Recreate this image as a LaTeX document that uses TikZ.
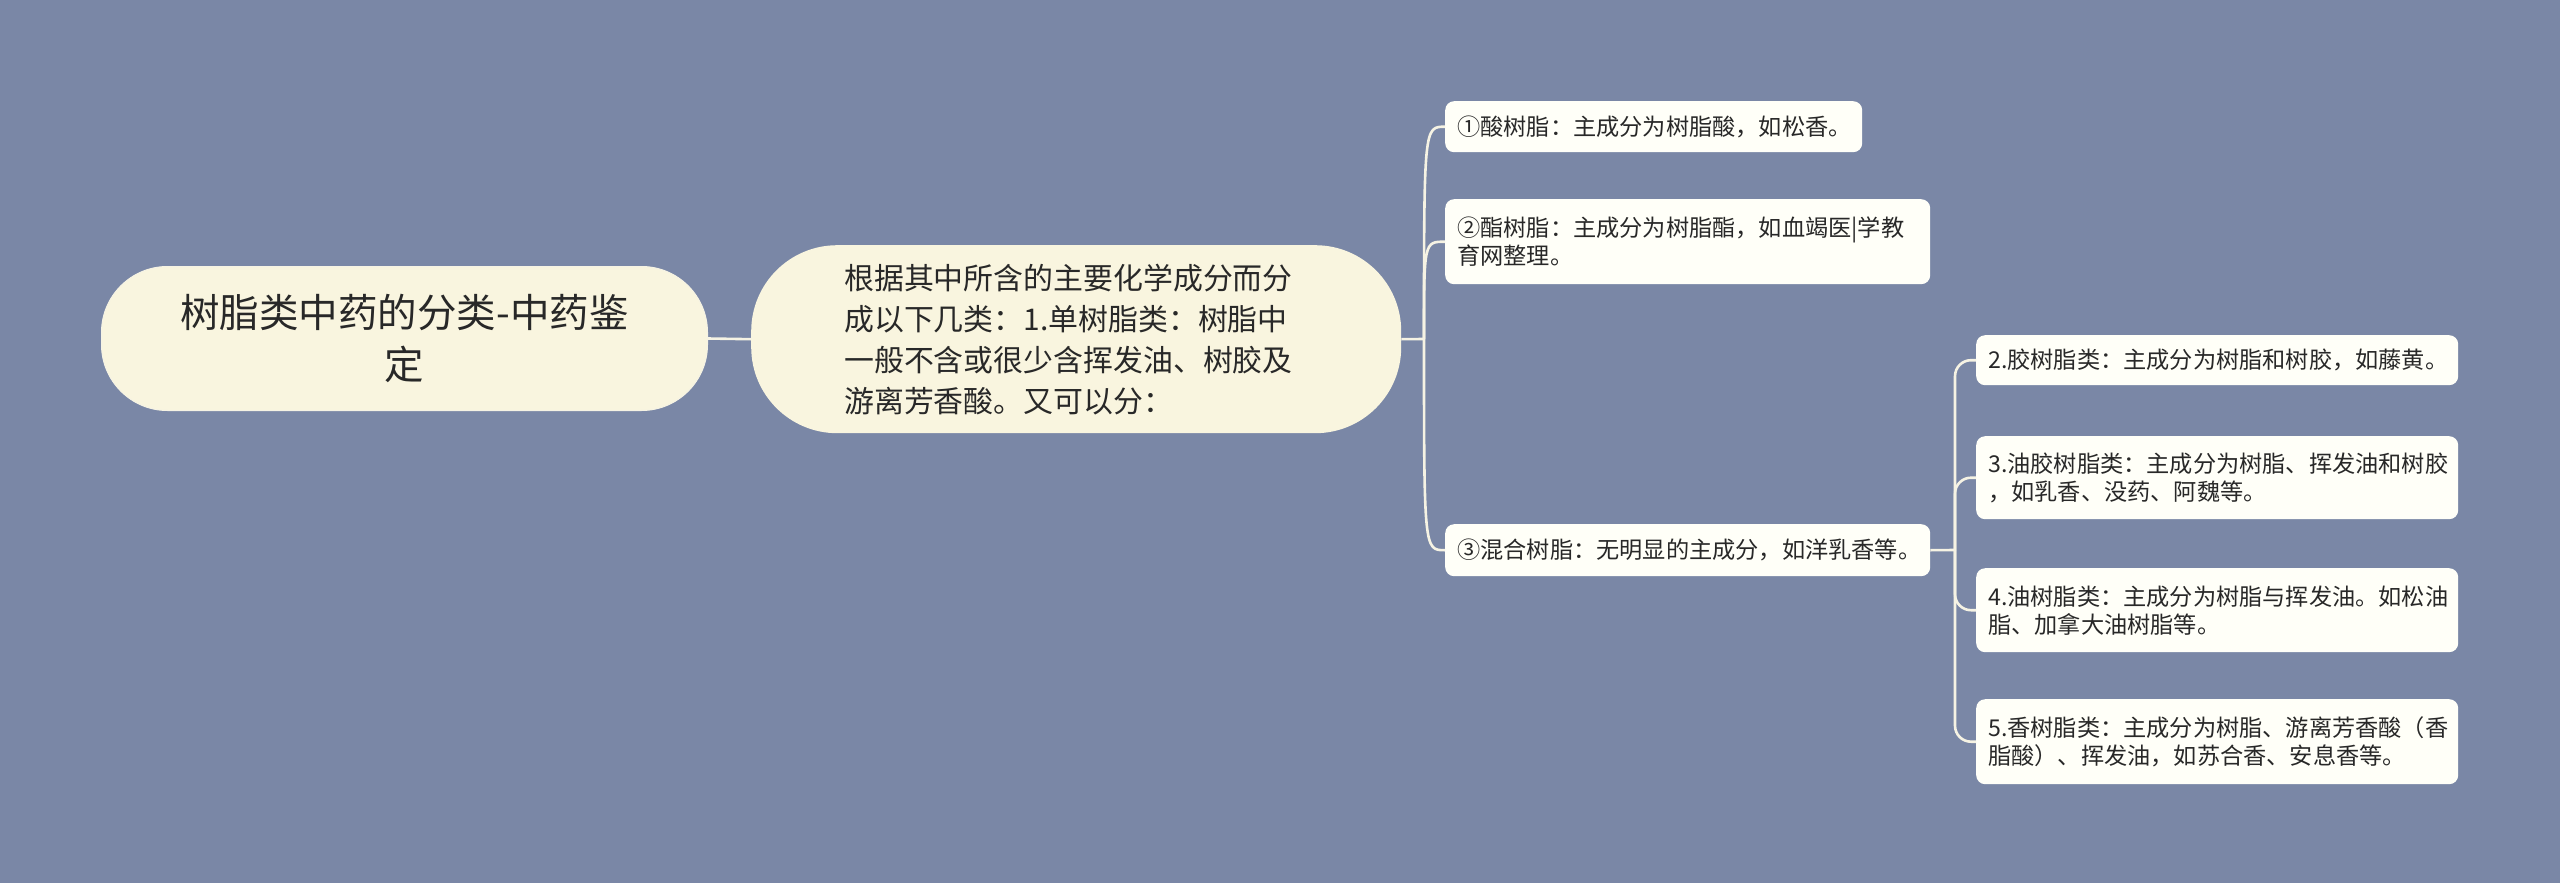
\documentclass[tikz,border=0pt]{standalone}
\usepackage{fontspec}
\setmainfont{Noto Sans CJK SC}
\usetikzlibrary{calc}
\definecolor{bgc}{RGB}{122,135,166}
\definecolor{creamc}{RGB}{249,245,223}
\definecolor{leafc}{RGB}{255,255,248}
\definecolor{linec}{RGB}{246,243,228}
\definecolor{textc}{RGB}{40,40,40}

\begin{document}
\begin{tikzpicture}[x=1pt,y=-1pt,
	branch/.style={line width=2.6pt,color=linec},
	rootbox/.style={fill=creamc,draw=linec,line width=1pt,text=textc,anchor=north west,inner xsep=0pt,inner ysep=0pt,align=center},
	mainbox/.style={fill=creamc,text=textc,anchor=north west,inner ysep=0pt,align=left},
	leafbox/.style={fill=leafc,text=textc,anchor=north west,rounded corners=9pt,inner xsep=12pt,inner ysep=0pt,align=left,
		font=\fontsize{23.2}{28}\selectfont}]
\useasboundingbox (0,0) rectangle (2560,883);
\fill[bgc] (0,0) rectangle (2560,883);

% root and its one child
\node[rootbox,rounded corners=66pt,text width=606pt,minimum height=144pt,
	font=\fontsize{39.5}{52}\selectfont] (R) at (101,266) {树脂类中药的分类-中药鉴\\定};
\node[mainbox,rounded corners=86pt,inner xsep=93pt,text width=464pt,minimum height=188pt,
	font=\fontsize{29.9}{41}\selectfont] (M) at (751,245)
	{根据其中所含的主要化学成分而分\\成以下几类：1.单树脂类：树脂中\\一般不含或很少含挥发油、树胶及\\游离芳香酸。又可以分：};

% first level leaves
\node[leafbox,text width=393pt,minimum height=51pt] (L1) at (1445,101) {①酸树脂：主成分为树脂酸，如松香。};
\node[leafbox,text width=461pt,minimum height=85pt] (L2) at (1445,199) {②酯树脂：主成分为树脂酯，如血竭医|学教\\育网整理。};
\node[leafbox,text width=461pt,minimum height=52pt] (L3) at (1445,524) {③混合树脂：无明显的主成分，如洋乳香等。};

% second level leaves
\node[leafbox,text width=458pt,minimum height=50pt] (S1) at (1976,335) {2.胶树脂类：主成分为树脂和树胶，如藤黄。};
\node[leafbox,text width=458pt,minimum height=83pt] (S2) at (1976,436) {3.油胶树脂类：主成分为树脂、挥发油和树胶\\，如乳香、没药、阿魏等。};
\node[leafbox,text width=458pt,minimum height=84pt] (S3) at (1976,568) {4.油树脂类：主成分为树脂与挥发油。如松油\\脂、加拿大油树脂等。};
\node[leafbox,text width=458pt,minimum height=85pt] (S4) at (1976,699) {5.香树脂类：主成分为树脂、游离芳香酸（香\\脂酸）、挥发油，如苏合香、安息香等。};

\coordinate (J) at (1424,339);
\coordinate (K) at (1955,550);

\draw[branch] (R.east) -- (M.west);
\draw[branch] (M.east) -- (J);
\draw[branch] (J) .. controls (J |- L1.west) .. (L1.west);
\draw[branch] (J) .. controls (J |- L2.west) .. (L2.west);
\draw[branch] (J) .. controls (J |- L3.west) .. (L3.west);
%\draw[branch] (J) |- (L3.west);
\draw[branch] (L3.east) -- (K);
\draw[branch,rounded corners=16pt] (K) |- (S1.west);
\draw[branch,rounded corners=16pt] (K) |- (S2.west);
\draw[branch,rounded corners=16pt] (K) |- (S3.west);
\draw[branch,rounded corners=16pt] (K) |- (S4.west);
\end{tikzpicture}
\end{document}
